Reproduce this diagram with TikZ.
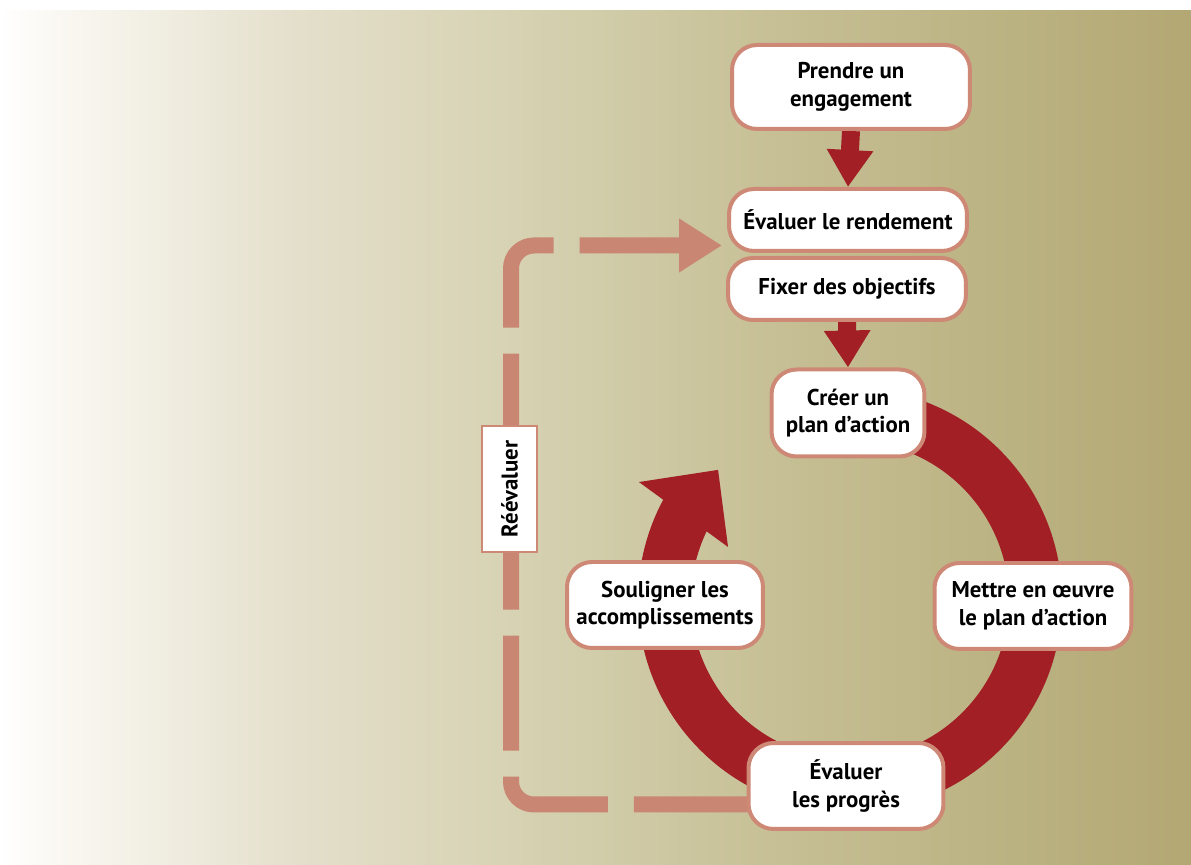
\documentclass[tikz,border=0pt]{standalone}
\usepackage{fontspec}
\setmainfont{PT Sans}
\usetikzlibrary{arrows.meta,backgrounds,calc}

\definecolor{cyclered}{HTML}{A11F25}
\definecolor{loopsalmon}{HTML}{C98672}
\definecolor{boxedge}{HTML}{CE8976}
\definecolor{panelA}{HTML}{FBF9F4}
\definecolor{panelB}{HTML}{E4DFCB}
\definecolor{panelC}{HTML}{D7D3B4}
\definecolor{panelD}{HTML}{C5BE93}
\definecolor{panelE}{HTML}{B3A874}

\pgfdeclarehorizontalshading{panelshade}{100bp}{
	color(0bp)=(white); color(25bp)=(white); color(27bp)=(panelA);
	color(37.5bp)=(panelB); color(46bp)=(panelC); color(58.5bp)=(panelD);
	color(75bp)=(panelE); color(100bp)=(panelE)
}

\tikzset{
	stepbox/.style={draw=boxedge,line width=0.08cm,fill=white,rounded corners=0.5cm,
		align=center,inner sep=0pt,font=\bfseries\fontsize{13}{15.6}\selectfont},
	redarrow/.style={cyclered,line width=0.36cm,-{Triangle[length=0.74cm,width=0.88cm]}},
	ring/.style={cyclered,line width=1.06cm},
	loopline/.style={loopsalmon,line width=0.32cm,rounded corners=0.46cm,
		dash pattern=on 2.3cm off 0.52cm,dash phase=0.26cm,
		{Triangle[length=0.86cm,width=1.02cm]}-}
}

\begin{document}
\begin{tikzpicture}

	\begin{scope}[x=0.02cm,y=0.02cm]
		\useasboundingbox (0,0) rectangle (1191,865);

		\node[stepbox,minimum width=4.76cm,minimum height=1.68cm] (engage) at (851,778) {Prendre un\\engagement};
		\node[stepbox,minimum width=4.76cm,minimum height=1.24cm] (rend) at (848,645) {Évaluer le rendement};
		\node[stepbox,minimum width=4.76cm,minimum height=1.24cm] (obj) at (847,576) {Fixer des objectifs};
		\node[stepbox,minimum width=3.06cm,minimum height=1.74cm] (plan) at (848,452) {Créer un\\plan d’action};
		\node[stepbox,minimum width=3.94cm,minimum height=1.72cm] (mettre) at (1033,259) {Mettre en œuvre\\le plan d’action};
		\node[stepbox,minimum width=3.90cm,minimum height=1.72cm] (prog) at (846,79) {Évaluer\\les progrès};
		\node[stepbox,minimum width=3.92cm,minimum height=1.72cm] (soul) at (665,260) {Souligner les\\accomplissements};
		\node[stepbox,rounded corners=0pt,line width=0.04cm,rotate=90,
			minimum width=2.52cm,minimum height=1.1cm] (reeval) at (509.5,376) {Réévaluer};

		\coordinate (cyc) at (850,265);
		\coordinate (loopin) at (722,619.5);
		\coordinate (loopout) at (770,60.5);

		\begin{scope}[on background layer]
			\fill[shading=panelshade] (0,0) rectangle (1191,854);

			% cycle
			\draw[ring] (cyc) ++(90:185.5) arc[start angle=90,end angle=-208.5,radius=185.5];
			\fill[cyclered] ($(cyc)+(150.8:241.8)$) -- ($(cyc)+(135.4:185.3)$) -- ($(cyc)+(156.5:133)$) -- cycle;

			\draw[redarrow] (engage.south) -- (rend.north);
			\draw[redarrow] (obj.south) -- (plan.north);

			\draw[loopline] (loopin) -| (511,60.5) -- (loopout);
		\end{scope}
	\end{scope}

\end{tikzpicture}
\end{document}
